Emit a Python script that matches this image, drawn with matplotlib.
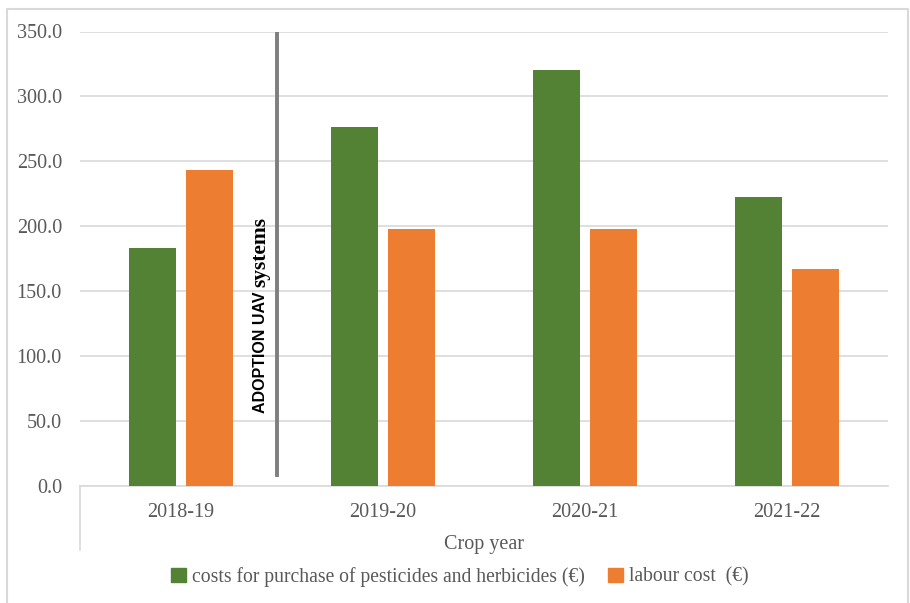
import matplotlib.pyplot as plt
import numpy as np
from matplotlib.patches import Patch
from matplotlib.lines import Line2D

# costs per crop year
years = ['2018-19', '2019-20', '2020-21', '2021-22']
pesticide_costs = [183.6, 276.5, 320.5, 222.3]
labour_costs = [243.3, 197.7, 197.7, 167.2]

green = '#548235'
orange = '#ED7D31'
grey_text = '#595959'
grid_col = '#d9d9d9'
serif = 'Liberation Serif'

fig = plt.figure(figsize=(9.1, 6.03), dpi=100)
ax = fig.add_axes([80 / 910, 1 - 486 / 603, 808 / 910, 454.5 / 603])

x = np.arange(len(years))
w = 0.232
ax.bar(x - 0.142, pesticide_costs, w, color=green, zorder=3)
ax.bar(x + 0.142, labour_costs, w, color=orange, zorder=3)

ax.set_xlim(-0.5, 3.5)
ax.set_ylim(0, 350)
ax.set_yticks(np.arange(0, 351, 50))
ax.set_yticklabels(['{:.1f}'.format(v) for v in np.arange(0, 351, 50)])
ax.set_xticks(x)
ax.set_xticklabels(years)
ax.grid(axis='y', color=grid_col, linewidth=1.2, zorder=0)
for s in ['top', 'right', 'left']:
    ax.spines[s].set_visible(False)
ax.spines['bottom'].set_color(grid_col)
ax.spines['bottom'].set_linewidth(1.2)
ax.tick_params(axis='both', length=0, labelsize=14.5, labelcolor=grey_text)
ax.tick_params(axis='y', pad=13)
ax.tick_params(axis='x', pad=12.5)
for lab in ax.get_xticklabels() + ax.get_yticklabels():
    lab.set_fontfamily(serif)

ax.set_xlabel('Crop year', fontsize=14.5, color=grey_text, family=serif, labelpad=9)

# adoption marker line and its label
ax.plot([0.475, 0.475], [8.5, 348.5], color='#7f7f7f', linewidth=2.8, zorder=4)
ax.text(0.395, 56, 'ADOPTION UAV', rotation=90, ha='center', va='bottom',
        fontsize=11.5, fontweight='bold', family='Liberation Sans', zorder=5)
ax.text(0.395, 153, 'systems', rotation=90, ha='center', va='bottom',
        fontsize=15.5, fontweight='bold', family=serif, zorder=5)

# category axis stub and outer frame
fig.add_artist(Line2D([80 / 910, 80 / 910], [1 - 486 / 603, 1 - 550 / 603],
                      color=grid_col, linewidth=1.2))
fig.add_artist(Line2D([7 / 910, 7 / 910, 908 / 910, 908 / 910],
                      [0, 1 - 9 / 603, 1 - 9 / 603, 0],
                      color=grid_col, linewidth=1.5))

handles = [Patch(color=green), Patch(color=orange)]
fig.legend(handles, ['costs for purchase of pesticides and herbicides (€)', 'labour cost  (€)'],
           loc='center', bbox_to_anchor=(460 / 910, 1 - 577 / 603), ncol=2, frameon=False,
           handlelength=0.75, handleheight=0.75, handletextpad=0.3, columnspacing=1.2,
           prop={'family': serif, 'size': 14.1}, labelcolor=grey_text)

fig.savefig('out.png', dpi=100)
